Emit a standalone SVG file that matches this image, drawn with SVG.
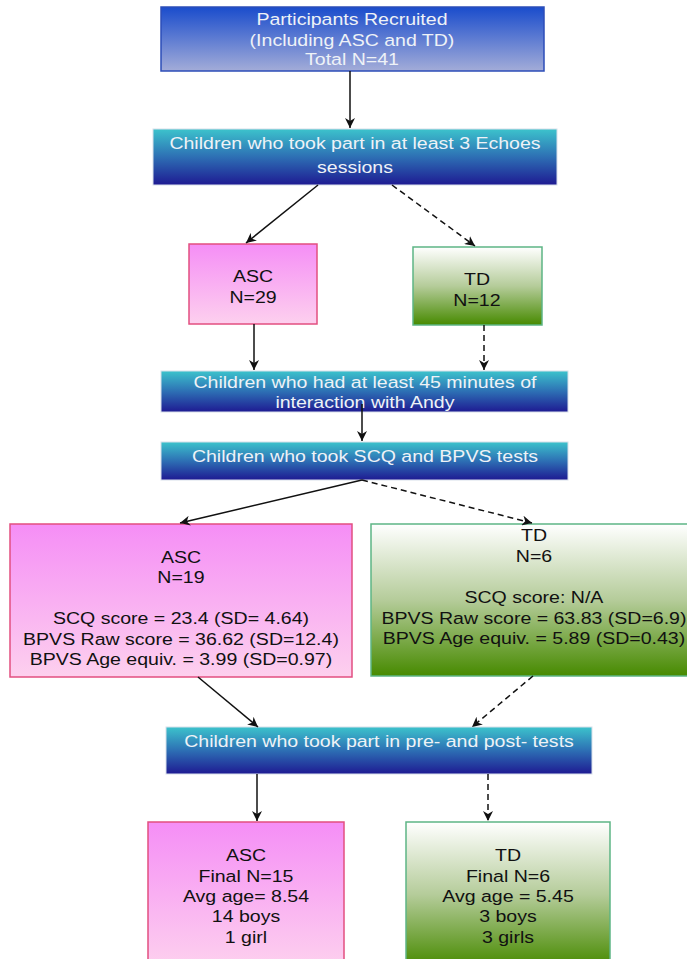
<svg xmlns="http://www.w3.org/2000/svg" width="687" height="959" viewBox="0 0 687 959">
<defs>
<linearGradient id="gBlue" x1="0" y1="0" x2="0" y2="1"><stop offset="0" stop-color="#1a4ccc"/><stop offset="1" stop-color="#a3acd8"/></linearGradient>
<linearGradient id="gTeal" x1="0" y1="0" x2="0" y2="1"><stop offset="0" stop-color="#3cc3cc"/><stop offset="0.5" stop-color="#2d6fb4"/><stop offset="1" stop-color="#1e1a92"/></linearGradient>
<linearGradient id="gPink" x1="0" y1="0" x2="0" y2="1"><stop offset="0" stop-color="#f58ef6"/><stop offset="1" stop-color="#fdd0ee"/></linearGradient>
<linearGradient id="gGreen" x1="0" y1="0" x2="0" y2="1"><stop offset="0" stop-color="#ffffff"/><stop offset="0.5" stop-color="#b5cc9a"/><stop offset="1" stop-color="#478a00"/></linearGradient>
<marker id="arr" viewBox="0 0 10 10" refX="10" refY="5" markerWidth="10" markerHeight="10" markerUnits="userSpaceOnUse" orient="auto"><path d="M0,0 L10,5 L0,10 L3,5 z" fill="#111"/></marker>
</defs>
<style>
text{font-family:"Liberation Sans",Arial,sans-serif;font-size:17px;text-anchor:middle;transform-box:fill-box;transform-origin:center;transform:scaleX(1.15)}
.w{fill:#eef2f7}
.k{fill:#111}
.blue{fill:url(#gBlue);stroke:#2c4db8;stroke-width:1.5}
.teal{fill:url(#gTeal);stroke:#d8e0ea;stroke-width:1}
.pink{fill:url(#gPink);stroke:#e24f80;stroke-width:1.5}
.green{fill:url(#gGreen);stroke:#5db585;stroke-width:1.5}
.c{stroke:#111;stroke-width:1.5;fill:none;marker-end:url(#arr)}
.d{stroke-dasharray:6,4}
</style>
<g id="n1"><rect class="blue" x="161" y="7" width="383" height="64"/>
<text class="w" x="352" y="25.5">Participants Recruited</text><text class="w" x="352" y="46">(Including ASC and TD)</text><text class="w" x="352" y="65.5">Total N=41</text></g>
<g id="n2"><rect class="teal" x="153" y="129" width="404" height="56"/>
<text class="w" x="355" y="149">Children who took part in at least 3 Echoes</text><text class="w" x="355" y="173">sessions</text></g>
<g id="n3"><rect class="pink" x="189" y="244" width="128" height="80"/>
<text class="k" x="253" y="282">ASC</text><text class="k" x="253" y="303">N=29</text></g>
<g id="n4"><rect class="green" x="413" y="247" width="129" height="78"/>
<text class="k" x="477" y="285">TD</text><text class="k" x="477" y="306">N=12</text></g>
<g id="n5"><rect class="teal" x="161" y="371" width="407" height="41"/>
<text class="w" x="365" y="388">Children who had at least 45 minutes  of</text><text class="w" x="365" y="408">interaction with Andy</text></g>
<g id="n6"><rect class="teal" x="161" y="442" width="407" height="38"/>
<text class="w" x="365" y="462">Children who took SCQ and BPVS tests</text></g>
<g id="n7"><rect class="pink" x="10" y="524" width="342" height="153"/>
<text class="k" x="181" y="563">ASC</text><text class="k" x="181" y="583">N=19</text>
<text class="k" x="181" y="624">SCQ score = 23.4 (SD= 4.64)</text><text class="k" x="181" y="645">BPVS Raw score = 36.62 (SD=12.4)</text><text class="k" x="181" y="665">BPVS Age equiv. = 3.99 (SD=0.97)</text></g>
<g id="n8"><rect class="green" x="371" y="524" width="325" height="152"/>
<text class="k" x="534" y="541">TD</text><text class="k" x="534" y="562">N=6</text>
<text class="k" x="534" y="603">SCQ score: N/A</text><text class="k" x="534" y="624">BPVS Raw score = 63.83 (SD=6.9)</text><text class="k" x="534" y="644">BPVS Age equiv. = 5.89 (SD=0.43)</text></g>
<g id="n9"><rect class="teal" x="166" y="727" width="426" height="47"/>
<text class="w" x="379" y="747">Children who took part in pre- and post- tests</text></g>
<g id="n10"><rect class="pink" x="148" y="822" width="196" height="145"/>
<text class="k" x="246" y="861">ASC</text><text class="k" x="246" y="882">Final N=15</text><text class="k" x="246" y="902">Avg age= 8.54</text><text class="k" x="246" y="922">14 boys</text><text class="k" x="246" y="943">1 girl</text></g>
<g id="n11"><rect class="green" x="406" y="822" width="204" height="145"/>
<text class="k" x="508" y="861">TD</text><text class="k" x="508" y="882">Final N=6</text><text class="k" x="508" y="902">Avg age = 5.45</text><text class="k" x="508" y="922">3 boys</text><text class="k" x="508" y="943">3 girls</text></g>
<g id="connectors">
<line class="c" x1="350" y1="71" x2="350" y2="128"/>
<line class="c" x1="318" y1="185" x2="246" y2="243"/>
<line class="c d" x1="392" y1="185" x2="475" y2="246"/>
<line class="c" x1="254" y1="324" x2="254" y2="370"/>
<line class="c d" x1="484" y1="325" x2="484" y2="370"/>
<line class="c" x1="362" y1="404" x2="362" y2="441"/>
<line class="c" x1="362" y1="480" x2="180" y2="523"/>
<line class="c d" x1="362" y1="480" x2="532" y2="523"/>
<line class="c" x1="198" y1="677" x2="258" y2="727"/>
<line class="c d" x1="533" y1="676" x2="472" y2="727"/>
<line class="c" x1="257" y1="774" x2="257" y2="821"/>
<line class="c d" x1="488" y1="774" x2="488" y2="821"/>
</g>
</svg>
